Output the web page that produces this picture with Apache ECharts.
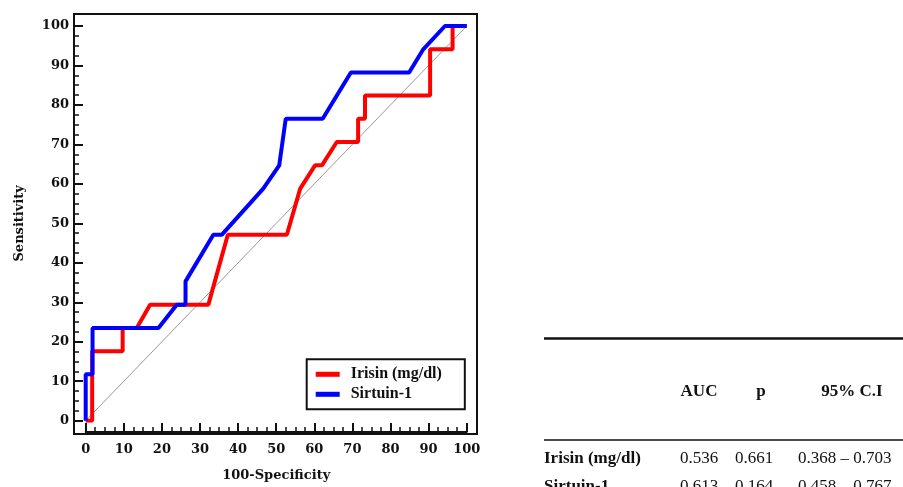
<!DOCTYPE html>
<html><head><meta charset="utf-8">
<script src="https://cdn.jsdelivr.net/npm/echarts@6/dist/echarts.min.js"></script>
<style>html,body{margin:0;padding:0;background:#fff}#c{width:903px;height:487px}</style>
</head><body><div id="c"></div>
<script>
// ---- data ----
const seriesNames = ['Irisin (mg/dl)', 'Sirtuin-1'];
const irisinX = [0, 1.7, 1.7, 9.7, 9.7, 13.4, 16.9, 32.2, 37.3, 52.8, 56.3, 60.2, 62.0, 65.9, 71.5, 71.5, 73.3, 73.3, 90.4, 90.4, 96.3, 96.3, 100];
const irisinY = [0, 0, 17.6, 17.6, 23.5, 23.5, 29.4, 29.4, 47.1, 47.1, 58.8, 64.7, 64.7, 70.6, 70.6, 76.5, 76.5, 82.4, 82.4, 94.1, 94.1, 100, 100];
const sirtuinX = [0, 0, 1.8, 1.8, 19.1, 23.9, 26.2, 26.2, 33.5, 35.7, 46.6, 50.8, 52.5, 62.2, 69.6, 84.9, 88.6, 94.3, 100];
const sirtuinY = [0, 11.8, 11.8, 23.5, 23.5, 29.4, 29.4, 35.3, 47.1, 47.1, 58.8, 64.7, 76.5, 76.5, 88.2, 88.2, 94.1, 100, 100];
const refLineX = [0, 100];
const refLineY = [0, 100];
const xAxisTitle = '100-Specificity';
const yAxisTitle = 'Sensitivity';
const tableHeader = ['AUC', 'p', '95% C.I'];
const tableRowNames = ['Irisin (mg/dl)', 'Sirtuin-1'];
const aucValues = ['0.536', '0.613'];
const pValues = ['0.661', '0.164'];
const ciValues = ['0.368 \u2013 0.703', '0.458 \u2013 0.767'];

// ---- build ----
const zip = (xs, ys) => xs.map((x, i) => [x, ys[i]]);
const tickFont = {color: '#111', fontFamily: 'DejaVu Serif', fontWeight: 'bold', fontSize: 13};
const tblFont = 'Liberation Serif';

const graphic = [
  {type: 'rect', shape: {x: 74, y: 14, width: 403, height: 420}, style: {fill: 'none', stroke: '#111', lineWidth: 2}, z: 10},
  {type: 'line', shape: {x1: 544, y1: 338.5, x2: 903, y2: 338.5}, style: {stroke: '#111', lineWidth: 2.5}},
  {type: 'line', shape: {x1: 544, y1: 440, x2: 903, y2: 440}, style: {stroke: '#111', lineWidth: 1.5}}
];
const headerX = [699, 761, 852];
tableHeader.forEach((t, i) => graphic.push({type: 'text', style: {text: t, x: headerX[i], y: 391.7, align: 'center', verticalAlign: 'middle', fontFamily: tblFont, fontWeight: 'bold', fontSize: 17, fill: '#111'}}));
const rowY = [458.3, 486.6];
tableRowNames.forEach((name, r) => {
  const cells = [[name, 544, 'left', 'bold'], [aucValues[r], 699, 'center', 'normal'], [pValues[r], 754, 'center', 'normal'], [ciValues[r], 798, 'left', 'normal']];
  cells.forEach(c => graphic.push({type: 'text', style: {text: c[0], x: c[1], y: rowY[r], align: c[2], verticalAlign: 'middle', fontFamily: tblFont, fontWeight: c[3], fontSize: 17, fill: '#111'}}));
});

const chart = echarts.init(document.getElementById('c'), null, {renderer: 'canvas'});
chart.setOption({
  animation: false,
  backgroundColor: '#fff',
  grid: {left: 85.7, top: 26, width: 381, height: 396.7, containLabel: false},
  xAxis: {
    type: 'value', min: 0, max: 100, interval: 10, offset: 11.3,
    axisLine: {show: true, onZero: false, lineStyle: {color: '#111', width: 2}},
    axisTick: {show: true, inside: true, length: 9, lineStyle: {color: '#111', width: 2}},
    minorTick: {show: true, splitNumber: 4, length: 5, lineStyle: {color: '#111', width: 1.5}},
    splitLine: {show: false},
    axisLabel: Object.assign({margin: 11}, tickFont),
    name: xAxisTitle, nameLocation: 'middle', nameGap: 37,
    nameTextStyle: {color: '#111', fontFamily: 'DejaVu Serif', fontWeight: 'bold', fontSize: 13}
  },
  yAxis: {
    type: 'value', min: 0, max: 100, interval: 10, offset: 11.7,
    axisLine: {show: true, onZero: false, lineStyle: {color: '#111', width: 2}},
    axisTick: {show: true, inside: true, length: 9, lineStyle: {color: '#111', width: 2}},
    minorTick: {show: true, splitNumber: 4, length: 5, lineStyle: {color: '#111', width: 1.5}},
    splitLine: {show: false},
    axisLabel: Object.assign({margin: 5}, tickFont),
    name: yAxisTitle, nameLocation: 'middle', nameGap: 48,
    nameTextStyle: {color: '#111', fontFamily: 'DejaVu Serif', fontWeight: 'bold', fontSize: 13}
  },
  legend: {
    data: seriesNames, orient: 'vertical', left: 306.7, top: 359.3,
    padding: [7, 23, 7, 9], itemGap: 4, itemWidth: 24, itemHeight: 5, icon: 'rect',
    borderColor: '#111', borderWidth: 2, backgroundColor: '#fff',
    textStyle: {fontFamily: tblFont, fontWeight: 'bold', fontSize: 16, color: '#111', padding: [0, 0, 0, 6]}
  },
  series: [
    {type: 'line', name: 'ref', data: zip(refLineX, refLineY), showSymbol: false, symbol: 'none', silent: true,
     lineStyle: {color: '#999', width: 1}, z: 1},
    {type: 'line', name: seriesNames[0], data: zip(irisinX, irisinY), symbol: 'none', color: '#ff0000',
     lineStyle: {color: '#ff0000', width: 4}, z: 2},
    {type: 'line', name: seriesNames[1], data: zip(sirtuinX, sirtuinY), symbol: 'none', color: '#0000ff',
     lineStyle: {color: '#0000ff', width: 4}, z: 3}
  ],
  graphic: graphic
});
</script></body></html>
